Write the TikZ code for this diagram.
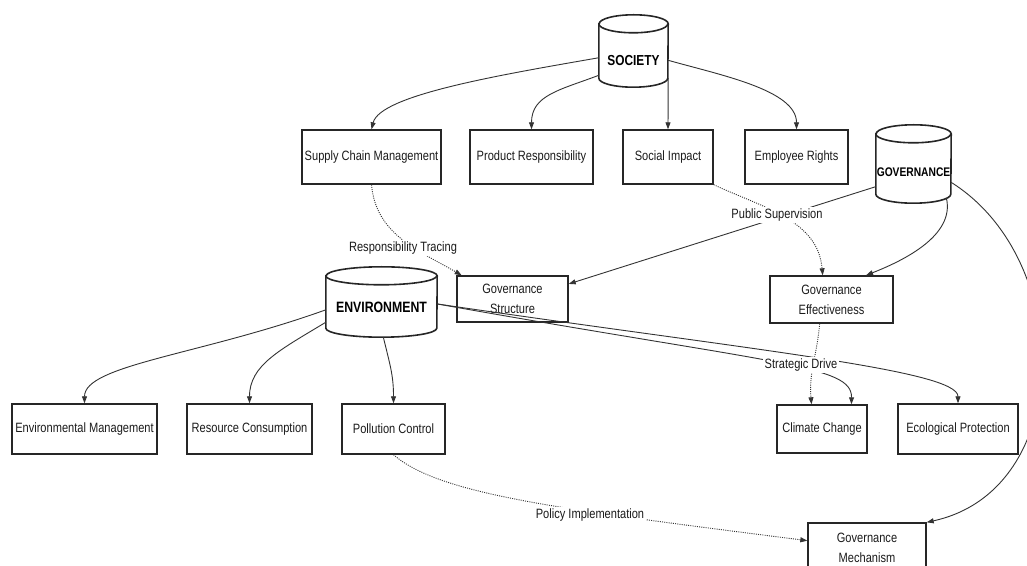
\documentclass[tikz,border=0pt]{standalone}
\usepackage{fontspec}
\setmainfont{Liberation Sans}[FakeStretch=0.82]
\usetikzlibrary{arrows.meta}
\definecolor{boxc}{HTML}{262626}
\definecolor{linec}{HTML}{333333}
\definecolor{txt}{HTML}{1A1A1A}
\tikzset{
  box/.style={draw=boxc, line width=1.4pt, inner sep=1pt, align=center, text=txt,
    font=\fontsize{13.5}{20}\selectfont},
  cyln/.style={rectangle, inner sep=0pt, text=black},
  cylline/.style={draw=boxc, line width=1.6pt},
  arr/.style={draw=linec, line width=0.9pt, -{Triangle[length=7pt,width=5pt]}},
  dotarr/.style={arr, dash pattern=on 1pt off 1.2pt},
  lbl/.style={fill=white, inner sep=1.5pt, text=txt, font=\fontsize{13.5}{16}\selectfont},
}
% outline of a vertical cylinder round a node: node, x radius, y radius
\newcommand\drawcyl[3]{%
  \draw[cylline] ([yshift=-#3]#1.north west) -- ([yshift=#3]#1.south west)
     arc[start angle=180, end angle=360, x radius=#2, y radius=#3]
     -- ([yshift=-#3]#1.north east)
     arc[start angle=0, end angle=180, x radius=#2, y radius=#3] -- cycle;
  \draw[cylline] ([yshift=-#3]#1.north west)
     arc[start angle=180, end angle=360, x radius=#2, y radius=#3];
}
\begin{document}
\begin{tikzpicture}[x=1pt,y=1pt]
\useasboundingbox (0,0) rectangle (1027,565);
\clip (0,0) rectangle (1027,565);
% cylinders
\node[cyln, minimum width=69pt, text height=50.2pt, text depth=21.8pt,
  font=\bfseries\fontsize{14.5}{16}\selectfont] (SOC) at (633.5,514) {SOCIETY};
\node[cyln, minimum width=75pt, text height=52pt, text depth=26pt,
  font=\bfseries\fontsize{12.5}{14}\selectfont] (GOV) at (913.5,401) {GOVERNANCE};
\node[cyln, minimum width=111pt, text height=45.9pt, text depth=24.1pt,
  font=\bfseries\fontsize{15}{17}\selectfont] (ENV) at (381.5,263) {ENVIRONMENT};
\drawcyl{SOC}{34.5pt}{9pt}
\drawcyl{GOV}{37.5pt}{9pt}
\drawcyl{ENV}{55.5pt}{9pt}
% boxes
\node[box, minimum width=139pt, minimum height=54pt] (SCM) at (371.5,408) {Supply Chain Management};
\node[box, minimum width=123pt, minimum height=54pt] (PR) at (531.5,408) {Product Responsibility};
\node[box, minimum width=90pt, minimum height=54pt] (SI) at (668,408) {Social Impact};
\node[box, minimum width=103pt, minimum height=54pt] (ER) at (796.5,408) {Employee Rights};
\node[box, minimum width=111pt, minimum height=46pt] (GS) at (512.5,266) {Governance\\Structure};
\node[box, minimum width=123pt, minimum height=47pt] (GE) at (831.5,265.5) {Governance\\Effectiveness};
\node[box, minimum width=145pt, minimum height=50pt] (EM) at (84.5,136) {Environmental Management};
\node[box, minimum width=125pt, minimum height=50pt] (RC) at (249.5,136) {Resource Consumption};
\node[box, minimum width=103pt, minimum height=50pt] (PC) at (393.5,136) {Pollution Control};
\node[box, minimum width=90pt, minimum height=48pt] (CC) at (822,136) {Climate Change};
\node[box, minimum width=120pt, minimum height=50pt] (EP) at (958,136) {Ecological Protection};
\node[box, minimum width=118pt, minimum height=50pt] (GM) at (867,17) {Governance\\Mechanism};
% society edges
\draw[arr] (SOC.191) .. controls (500,490) and (380,470) .. (SCM.north);
\draw[arr] (SOC.215) .. controls (560,475) and (531.5,470) .. (PR.north);
\draw[arr] (SOC.-38) -- (SI.north);
\draw[arr] (SOC.-15) .. controls (720,490) and (796.5,475) .. (ER.north);
% governance edges
\draw[arr] (GOV.211) -- (GS.15);
\draw[arr] ([yshift=5pt]GOV.-50) .. controls (955,330) and (905,305) .. (GE.35);
\draw[arr] (GOV.-26) .. controls (1075,305) and (1075,75) .. (GM.north east);
% environment edges
\draw[arr] (ENV.188) .. controls (200,210) and (84.5,200) .. (EM.north);
\draw[arr] (ENV.200) .. controls (280,215) and (249.5,200) .. (RC.north);
\draw[arr] (ENV.-87) .. controls (390,200) and (393.5,190) .. (PC.north);
\draw[arr] (ENV.-2) .. controls (780,200) and (852,200) .. (CC.40);
\draw[arr] (ENV.-2) .. controls (750,215) and (958,195) .. (EP.north);
% dotted edges
\draw[dotarr] (SCM.south) to[out=-85,in=150] (GS.155);
\draw[dotarr] (SI.south east) to[out=-25,in=95] (GE.110);
\draw[dotarr] (GE.244) to[out=-95,in=95] (CC.113);
\draw[dotarr] (PC.south) .. controls (440,70) and (560,56) .. (GM.173);
% labels
\node[lbl] (lRT) at (403,317) {Responsibility Tracing};
\node[lbl] (lPS) at (777,350) {Public Supervision};
\node[lbl] (lSD) at (801,200) {Strategic Drive};
\node[lbl] (lPI) at (590,50) {Policy Implementation};
\end{tikzpicture}
\end{document}
